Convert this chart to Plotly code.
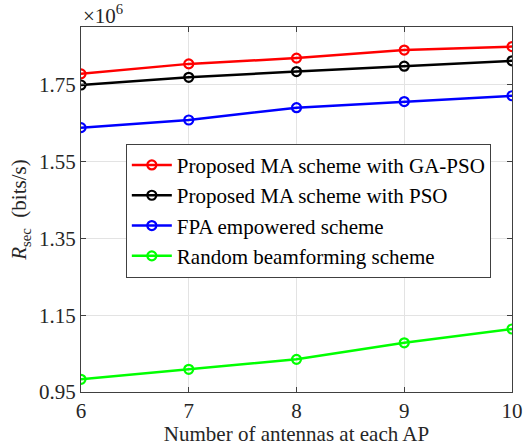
import plotly.graph_objects as go

# antennas per AP
antennas = [6, 7, 8, 9, 10]

# secrecy rate (bits/s)
ga_pso = [1.778e6, 1.804e6, 1.819e6, 1.840e6, 1.849e6]
pso = [1.749e6, 1.769e6, 1.784e6, 1.798e6, 1.812e6]
fpa = [1.638e6, 1.658e6, 1.690e6, 1.706e6, 1.721e6]
random_bf = [0.983e6, 1.009e6, 1.035e6, 1.078e6, 1.114e6]

names = ["Proposed MA scheme with GA-PSO", "Proposed MA scheme with PSO",
         "FPA empowered scheme", "Random beamforming scheme"]
colors = ["#ff0000", "#000000", "#0000ff", "#00ff00"]

ytick_vals = [0.95e6, 1.15e6, 1.35e6, 1.55e6, 1.75e6]
ytick_text = ["0.95", "1.15", "1.35", "1.55", "1.75"]

font = "Times New Roman, Liberation Serif, serif"
axcol = "#404040"

fig = go.Figure()
for ys, nm, c in zip([ga_pso, pso, fpa, random_bf], names, colors):
    fig.add_trace(go.Scatter(
        x=antennas, y=ys, name=nm, mode="lines+markers",
        line=dict(color=c, width=2.5),
        marker=dict(symbol="circle-open", size=9, color=c, line=dict(width=2.2)),
    ))

axis_common = dict(
    showline=True, linecolor=axcol, linewidth=1, mirror="ticks",
    ticks="inside", ticklen=5, tickcolor=axcol,
    showgrid=True, gridcolor="#e3e3e3", gridwidth=1,
    zeroline=False, automargin=False,
    tickfont=dict(family=font, size=21, color="#262626"),
)

fig.update_xaxes(
    range=[6, 10], tickvals=antennas,
    title=dict(text="Number of antennas at each AP",
               font=dict(family=font, size=21, color="#262626"), standoff=5),
    **axis_common,
)
fig.update_yaxes(
    range=[0.95e6, 1.9e6], tickvals=ytick_vals, ticktext=ytick_text,
    title=dict(text="<i>R</i><sub>sec</sub>  (bits/s)",
               font=dict(family=font, size=21, color="#262626"), standoff=6),
    **axis_common,
)

fig.add_annotation(
    text="×10<sup>6</sup>", xref="paper", yref="paper", x=0, y=1,
    xanchor="left", yanchor="bottom", showarrow=False, yshift=-3,
    font=dict(family=font, size=21, color="#262626"),
)

fig.update_layout(
    width=524, height=446,
    margin=dict(l=81, r=12, t=27, b=54),
    plot_bgcolor="white", paper_bgcolor="white",
    font=dict(family=font, color="#262626"),
    legend=dict(
        x=0.104, y=0.68, xanchor="left", yanchor="top",
        bgcolor="white", bordercolor=axcol, borderwidth=1,
        font=dict(family=font, size=21, color="#000000"),
        itemwidth=40, tracegroupgap=0,
    ),
)

fig.write_html("out.html", config={"displayModeBar": False},
               post_script="document.body.style.margin='0';")
